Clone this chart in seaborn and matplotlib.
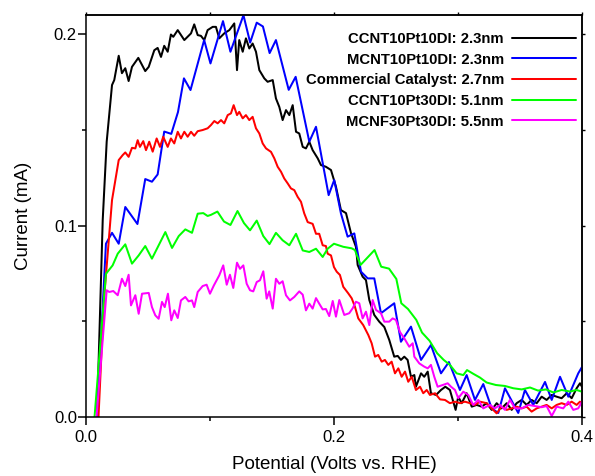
import matplotlib
matplotlib.use("Agg")
import matplotlib.pyplot as plt
from matplotlib.ticker import MultipleLocator, FormatStrFormatter, NullFormatter
import numpy as np
import pandas as pd
import seaborn as sns

# ---- series data: potential (V vs. RHE) and current (mA) ----
labels = [
    "CCNT10Pt10DI: 2.3nm",
    "MCNT10Pt10DI: 2.3nm",
    "Commercial Catalyst: 2.7nm",
    "CCNT10Pt30DI: 5.1nm",
    "MCNF30Pt30DI: 5.5nm",
]
colors = ["#000000", "#0000FF", "#FF0000", "#00FF00", "#FF00FF"]

ccnt10_v = [0.0089, 0.0135, 0.0167, 0.0210, 0.0228, 0.0264, 0.0290, 0.0317, 0.0344, 0.0371,
            0.0422, 0.0478, 0.0506, 0.0551, 0.0578, 0.0605, 0.0631, 0.0659, 0.0685, 0.0704,
            0.0740, 0.0793, 0.0847, 0.0873, 0.0901, 0.0927, 0.0954, 0.0981, 0.1022, 0.1048,
            0.1075, 0.1115, 0.1156, 0.1196, 0.1218, 0.1236, 0.1264, 0.1290, 0.1317, 0.1344,
            0.1371, 0.1398, 0.1438, 0.1465, 0.1506, 0.1532, 0.1559, 0.1586, 0.1613, 0.1640,
            0.1667, 0.1694, 0.1720, 0.1748, 0.1774, 0.1801, 0.1828, 0.1869, 0.1895, 0.1935,
            0.1976, 0.2016, 0.2056, 0.2097, 0.2137, 0.2177, 0.2191, 0.2231, 0.2258, 0.2285,
            0.2325, 0.2365, 0.2406, 0.2446, 0.2486, 0.2514, 0.2540, 0.2567, 0.2594, 0.2621,
            0.2648, 0.2661, 0.2702, 0.2728, 0.2756, 0.2782, 0.2823, 0.2863, 0.2898, 0.2935,
            0.2981, 0.3002, 0.3030, 0.3070, 0.3111, 0.3151, 0.3191, 0.3231, 0.3272, 0.3312,
            0.3352, 0.3393, 0.3433, 0.3473, 0.3514, 0.3554, 0.3594, 0.3635, 0.3675, 0.3715,
            0.3756, 0.3796, 0.3836, 0.3877, 0.3917, 0.3957, 0.3984, 0.4000]
ccnt10_i = [0.0, 0.1029, 0.1438, 0.1734, 0.1760, 0.1887, 0.1796, 0.1822, 0.1755, 0.1829,
            0.1876, 0.1807, 0.1829, 0.1916, 0.1928, 0.1881, 0.1939, 0.1908, 0.1998, 0.1986,
            0.2021, 0.1969, 0.2004, 0.2051, 0.1995, 0.1991, 0.1969, 0.2021, 0.2038, 0.2038,
            0.1978, 0.2004, 0.2021, 0.2056, 0.1812, 0.1969, 0.1908, 0.1978, 0.1925, 0.1951,
            0.1908, 0.1812, 0.1769, 0.1751, 0.1760, 0.1664, 0.1620, 0.1551, 0.1603, 0.1577,
            0.1629, 0.1490, 0.1481, 0.1411, 0.1403, 0.1438, 0.1394, 0.1351, 0.1316, 0.1307,
            0.1290, 0.1203, 0.1081, 0.1065, 0.0961, 0.0889, 0.0794, 0.0733, 0.0715, 0.0611,
            0.0533, 0.0498, 0.0470, 0.0402, 0.0315, 0.0319, 0.0298, 0.0315, 0.0298, 0.0210,
            0.0219, 0.0158, 0.0228, 0.0210, 0.0237, 0.0124, 0.0115, 0.0141, 0.0158, 0.0141,
            0.0037, 0.0106, 0.0072, 0.0124, 0.0054, 0.0063, 0.0054, 0.0072, 0.0037, 0.0072,
            0.0045, 0.0072, 0.0037, 0.0072, 0.0089, 0.0063, 0.0089, 0.0072, 0.0106, 0.0089,
            0.0115, 0.0106, 0.0098, 0.0124, 0.0098, 0.0150, 0.0176, 0.0158]

mcnt10_v = [0.0089, 0.0161, 0.0210, 0.0264, 0.0317, 0.0415, 0.0478, 0.0532, 0.0578, 0.0631,
            0.0688, 0.0742, 0.0790, 0.0843, 0.0953, 0.1004, 0.1105, 0.1165, 0.1270, 0.1324,
            0.1377, 0.1427, 0.1481, 0.1532, 0.1635, 0.1691, 0.1801, 0.1855, 0.1957, 0.2002,
            0.2056, 0.2110, 0.2164, 0.2218, 0.2272, 0.2325, 0.2379, 0.2486, 0.2540, 0.2621,
            0.2702, 0.2782, 0.2863, 0.2927, 0.3016, 0.3070, 0.3137, 0.3204, 0.3272, 0.3325,
            0.3379, 0.3486, 0.3540, 0.3607, 0.3702, 0.3756, 0.3823, 0.3890, 0.3970, 0.4000]
mcnt10_i = [0.0, 0.0905, 0.0962, 0.0905, 0.1097, 0.1008, 0.1243, 0.1229, 0.1267, 0.1491,
            0.1479, 0.1593, 0.1769, 0.1708, 0.1969, 0.1847, 0.2068, 0.1908, 0.2099, 0.1956,
            0.2060, 0.2040, 0.1901, 0.1969, 0.1709, 0.1777, 0.1438, 0.1516, 0.1159, 0.1238,
            0.1064, 0.0942, 0.0959, 0.0759, 0.0724, 0.0724, 0.0542, 0.0594, 0.0393, 0.0472,
            0.0298, 0.0376, 0.0228, 0.0287, 0.0141, 0.0219, 0.0089, 0.0172, 0.0045, 0.0021,
            0.0150, 0.0021, 0.0141, 0.0063, 0.0183, 0.0089, 0.0210, 0.0106, 0.0228, 0.0261]

commercial_v = [0.0101, 0.0145, 0.0210, 0.0264, 0.0296, 0.0317, 0.0344, 0.0371, 0.0398, 0.0417,
                0.0435, 0.0462, 0.0484, 0.0510, 0.0538, 0.0570, 0.0597, 0.0623, 0.0659, 0.0685,
                0.0712, 0.0740, 0.0766, 0.0793, 0.0820, 0.0847, 0.0873, 0.0901, 0.0941, 0.0981,
                0.1008, 0.1035, 0.1062, 0.1089, 0.1115, 0.1143, 0.1169, 0.1191, 0.1218, 0.1236,
                0.1264, 0.1290, 0.1317, 0.1344, 0.1371, 0.1398, 0.1425, 0.1452, 0.1492, 0.1519,
                0.1546, 0.1573, 0.1599, 0.1627, 0.1653, 0.1680, 0.1707, 0.1734, 0.1760, 0.1788,
                0.1828, 0.1855, 0.1881, 0.1909, 0.1935, 0.1949, 0.1976, 0.2000, 0.2022, 0.2048,
                0.2075, 0.2115, 0.2143, 0.2169, 0.2196, 0.2236, 0.2277, 0.2304, 0.2331, 0.2357,
                0.2385, 0.2411, 0.2438, 0.2465, 0.2492, 0.2519, 0.2546, 0.2573, 0.2599, 0.2627,
                0.2661, 0.2694, 0.2720, 0.2748, 0.2774, 0.2815, 0.2855, 0.2895, 0.2935, 0.2976,
                0.3016, 0.3056, 0.3097, 0.3137, 0.3177, 0.3231, 0.3272, 0.3312, 0.3352, 0.3393,
                0.3433, 0.3473, 0.3514, 0.3554, 0.3594, 0.3635, 0.3675, 0.3715, 0.3756, 0.3796,
                0.3836, 0.3877, 0.3917, 0.3957, 0.3984, 0.4000]
commercial_i = [0.0, 0.0611, 0.1133, 0.1342, 0.1368, 0.1382, 0.1359, 0.1406, 0.1403, 0.1446,
                0.1411, 0.1441, 0.1394, 0.1438, 0.1386, 0.1455, 0.1411, 0.1464, 0.1411, 0.1455,
                0.1429, 0.1490, 0.1455, 0.1490, 0.1464, 0.1490, 0.1469, 0.1493, 0.1499, 0.1508,
                0.1525, 0.1546, 0.1534, 0.1551, 0.1534, 0.1577, 0.1586, 0.1629, 0.1577, 0.1594,
                0.1560, 0.1577, 0.1551, 0.1568, 0.1508, 0.1481, 0.1429, 0.1403, 0.1385, 0.1351,
                0.1307, 0.1281, 0.1246, 0.1220, 0.1194, 0.1185, 0.1150, 0.1124, 0.1064, 0.1018,
                0.1009, 0.0957, 0.0957, 0.0897, 0.0893, 0.0853, 0.0844, 0.0783, 0.0759, 0.0742,
                0.0680, 0.0646, 0.0620, 0.0576, 0.0515, 0.0480, 0.0428, 0.0385, 0.0315, 0.0324,
                0.0289, 0.0298, 0.0272, 0.0289, 0.0228, 0.0254, 0.0210, 0.0237, 0.0184, 0.0210,
                0.0141, 0.0158, 0.0124, 0.0141, 0.0115, 0.0124, 0.0092, 0.0089, 0.0072, 0.0080,
                0.0072, 0.0080, 0.0072, 0.0063, 0.0080, 0.0072, 0.0045, 0.0019, 0.0054, 0.0037,
                0.0045, 0.0054, 0.0045, 0.0054, 0.0028, 0.0045, 0.0054, 0.0063, 0.0045, 0.0063,
                0.0072, 0.0063, 0.0080, 0.0063, 0.0080, 0.0072]

ccnt30_v = [0.0069, 0.0161, 0.0215, 0.0256, 0.0317, 0.0371, 0.0425, 0.0478, 0.0532, 0.0640,
            0.0694, 0.0748, 0.0801, 0.0855, 0.0901, 0.0946, 0.0981, 0.1008, 0.1060, 0.1113,
            0.1165, 0.1222, 0.1274, 0.1323, 0.1377, 0.1430, 0.1480, 0.1532, 0.1586, 0.1640,
            0.1694, 0.1748, 0.1801, 0.1855, 0.1909, 0.1949, 0.2000, 0.2075, 0.2143, 0.2169,
            0.2214, 0.2327, 0.2381, 0.2444, 0.2503, 0.2543, 0.2597, 0.2664, 0.2710, 0.2771,
            0.2832, 0.2885, 0.2935, 0.2989, 0.3043, 0.3073, 0.3125, 0.3177, 0.3231, 0.3306,
            0.3379, 0.3446, 0.3514, 0.3581, 0.3645, 0.3710, 0.3769, 0.3836, 0.3903, 0.3957,
            0.4000]
ccnt30_i = [0.0, 0.0748, 0.0792, 0.0853, 0.0902, 0.0801, 0.0844, 0.0893, 0.0827, 0.0966,
            0.0883, 0.0945, 0.0980, 0.0962, 0.1062, 0.1065, 0.1050, 0.1056, 0.1073, 0.1021,
            0.1003, 0.1076, 0.1013, 0.0975, 0.1026, 0.0945, 0.0903, 0.0962, 0.0923, 0.0897,
            0.0957, 0.0870, 0.0862, 0.0879, 0.0836, 0.0879, 0.0905, 0.0889, 0.0881, 0.0872,
            0.0794, 0.0872, 0.0785, 0.0775, 0.0721, 0.0594, 0.0564, 0.0507, 0.0441, 0.0398,
            0.0333, 0.0298, 0.0272, 0.0228, 0.0219, 0.0245, 0.0225, 0.0206, 0.0180, 0.0167,
            0.0162, 0.0150, 0.0144, 0.0154, 0.0138, 0.0144, 0.0128, 0.0141, 0.0133, 0.0141,
            0.0132]

mcnf30_v = [0.0085, 0.0167, 0.0188, 0.0220, 0.0256, 0.0290, 0.0317, 0.0344, 0.0363, 0.0398,
            0.0425, 0.0452, 0.0506, 0.0532, 0.0559, 0.0586, 0.0613, 0.0635, 0.0661, 0.0688,
            0.0712, 0.0740, 0.0766, 0.0801, 0.0828, 0.0855, 0.0873, 0.0901, 0.0941, 0.0973,
            0.1000, 0.1032, 0.1075, 0.1107, 0.1135, 0.1161, 0.1188, 0.1218, 0.1242, 0.1269,
            0.1296, 0.1323, 0.1349, 0.1377, 0.1403, 0.1430, 0.1457, 0.1478, 0.1506, 0.1532,
            0.1559, 0.1586, 0.1613, 0.1645, 0.1680, 0.1720, 0.1748, 0.1774, 0.1801, 0.1828,
            0.1855, 0.1881, 0.1909, 0.1935, 0.1962, 0.1990, 0.2016, 0.2043, 0.2083, 0.2123,
            0.2151, 0.2177, 0.2204, 0.2231, 0.2258, 0.2285, 0.2312, 0.2339, 0.2379, 0.2406,
            0.2446, 0.2473, 0.2500, 0.2532, 0.2567, 0.2607, 0.2635, 0.2648, 0.2688, 0.2728,
            0.2756, 0.2782, 0.2809, 0.2836, 0.2877, 0.2917, 0.2944, 0.2976, 0.3002, 0.3043,
            0.3083, 0.3123, 0.3164, 0.3204, 0.3258, 0.3298, 0.3339, 0.3379, 0.3419, 0.3460,
            0.3514, 0.3567, 0.3621, 0.3675, 0.3715, 0.3756, 0.3796, 0.3849, 0.3890, 0.3930,
            0.3970, 0.4000]
mcnf30_i = [0.0, 0.0662, 0.0653, 0.0658, 0.0636, 0.0722, 0.0684, 0.0743, 0.0583, 0.0636,
            0.0539, 0.0644, 0.0648, 0.0574, 0.0531, 0.0513, 0.0601, 0.0574, 0.0644, 0.0505,
            0.0557, 0.0517, 0.0609, 0.0627, 0.0604, 0.0609, 0.0574, 0.0653, 0.0684, 0.0691,
            0.0644, 0.0688, 0.0740, 0.0792, 0.0691, 0.0743, 0.0674, 0.0806, 0.0774, 0.0792,
            0.0696, 0.0662, 0.0656, 0.0705, 0.0714, 0.0761, 0.0618, 0.0656, 0.0566, 0.0722,
            0.0696, 0.0709, 0.0636, 0.0609, 0.0627, 0.0656, 0.0639, 0.0557, 0.0592, 0.0566,
            0.0621, 0.0592, 0.0562, 0.0564, 0.0527, 0.0606, 0.0524, 0.0611, 0.0533, 0.0542,
            0.0568, 0.0602, 0.0594, 0.0515, 0.0550, 0.0480, 0.0611, 0.0559, 0.0542, 0.0498,
            0.0498, 0.0515, 0.0507, 0.0444, 0.0411, 0.0367, 0.0385, 0.0315, 0.0280, 0.0263,
            0.0254, 0.0272, 0.0210, 0.0158, 0.0167, 0.0176, 0.0158, 0.0141, 0.0098, 0.0132,
            0.0115, 0.0063, 0.0089, 0.0045, 0.0063, 0.0045, 0.0063, 0.0037, 0.0089, 0.0045,
            0.0045, 0.0063, 0.0057, 0.0051, 0.0057, 0.0005, 0.0054, 0.0045, 0.0080, 0.0037,
            0.0045, 0.0080]

x_ticks = [0.0, 0.2, 0.4]
y_ticks = [0.0, 0.1, 0.2]

# ---- style ----
sns.set_theme(style="ticks")
plt.rcParams["font.family"] = ["Liberation Sans", "DejaVu Sans"]
plt.rcParams.update({
    "axes.linewidth": 1.1,
    "axes.edgecolor": "black",
    "xtick.color": "black",
    "ytick.color": "black",
    "axes.labelcolor": "black",
    "text.color": "black",
})

series = [
    (labels[0], ccnt10_v, ccnt10_i),
    (labels[1], mcnt10_v, mcnt10_i),
    (labels[2], commercial_v, commercial_i),
    (labels[3], ccnt30_v, ccnt30_i),
    (labels[4], mcnf30_v, mcnf30_i),
]
df = pd.concat(
    [pd.DataFrame({"Potential": v, "Current": i, "Sample": name}) for name, v, i in series],
    ignore_index=True,
)
palette = dict(zip(labels, colors))

fig = plt.figure(figsize=(5.95, 4.76), dpi=100)
ax = fig.add_axes([0.1445, 0.1240, 0.8336, 0.8445])

sns.lineplot(data=df, x="Potential", y="Current", hue="Sample", hue_order=labels,
             palette=palette, estimator=None, sort=False, linewidth=1.45, ax=ax)

ax.set_xlim(0.0, 0.4)
ax.set_ylim(0.0, 0.21)
ax.set_xticks(x_ticks)
ax.set_yticks(y_ticks)
ax.xaxis.set_minor_locator(MultipleLocator(0.1))
ax.yaxis.set_minor_locator(MultipleLocator(0.05))
ax.xaxis.set_major_formatter(FormatStrFormatter("%.1f"))
ax.yaxis.set_major_formatter(FormatStrFormatter("%.1f"))
ax.tick_params(which="major", direction="out", length=5.5, width=1.1, labelsize=12)
ax.tick_params(which="minor", direction="out", length=3.2, width=1.1)
ax.tick_params(axis="y", which="major", pad=1)
ax.tick_params(axis="x", which="major", pad=4)

# short outward ticks on the top and right frame edges
top = ax.secondary_xaxis("top")
top.set_xticks(x_ticks)
top.xaxis.set_minor_locator(MultipleLocator(0.1))
top.xaxis.set_major_formatter(NullFormatter())
top.tick_params(which="both", direction="out", length=2.2, width=1.0)
right = ax.secondary_yaxis("right")
right.set_yticks(y_ticks)
right.yaxis.set_minor_locator(MultipleLocator(0.05))
right.yaxis.set_major_formatter(NullFormatter())
right.tick_params(which="both", direction="out", length=2.2, width=1.0)

ax.set_xlabel("Potential (Volts vs. RHE)", fontsize=13.5, labelpad=8)
ax.set_ylabel("Current (mA)", fontsize=13.5, labelpad=16)

handles, names = ax.get_legend_handles_labels()
ax.legend(handles, names, loc="upper right", bbox_to_anchor=(0.988, 0.958),
          markerfirst=False, frameon=False, prop={"weight": "bold", "size": 10.7},
          handlelength=4.3, handletextpad=0.55, labelspacing=0.45,
          borderpad=0, borderaxespad=0)

fig.savefig("out.png", dpi=100)
